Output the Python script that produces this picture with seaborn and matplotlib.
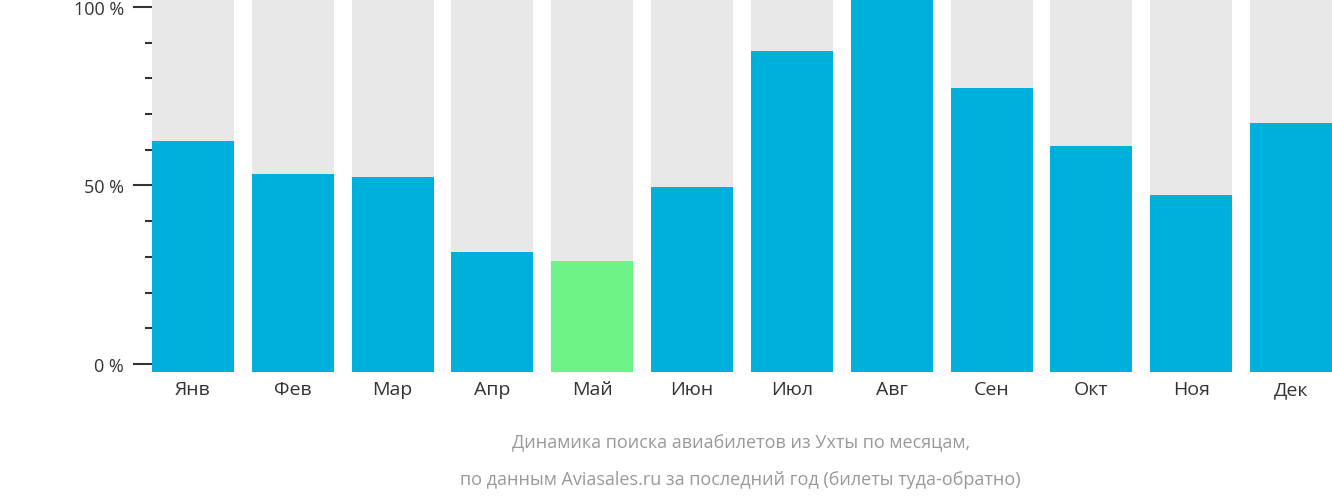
import matplotlib
matplotlib.use("Agg")
import matplotlib.pyplot as plt
import seaborn as sns
import pandas as pd

months = ["Янв", "Фев", "Мар", "Апр", "Май", "Июн", "Июл", "Авг", "Сен", "Окт", "Ноя", "Дек"]
values = [62.5, 53.2, 52.4, 31.4, 28.9, 49.6, 87.7, 102.2, 77.3, 61.1, 47.3, 67.5]
highlight = "Май"

BASE = -2.24
TOP = 102.24
blue, green, grey = "#00b0dc", "#6cf287", "#e8e8e8"

df = pd.DataFrame({"month": months, "value": values})
df["h"] = [v - BASE for v in df["value"]]
df["full"] = TOP - BASE

plt.rcParams["font.family"] = "Open Sans"
fig = plt.figure(figsize=(13.32, 5.02), dpi=100)
ax = fig.add_axes([152 / 1332, 129 / 502, 1 - 152 / 1332, 1 - 129 / 502])

sns.barplot(data=df, x="month", y="full", bottom=BASE, color=grey, width=0.82, ax=ax, saturation=1)
palette = {m: (green if m == highlight else blue) for m in months}
sns.barplot(data=df, x="month", y="h", bottom=BASE, hue="month", palette=palette,
            legend=False, width=0.82, ax=ax, saturation=1)

ax.set_xlim(-0.41, 11.41)
ax.set_ylim(BASE, TOP)
ax.set_yticks([0, 50, 100])
ax.set_yticklabels(["0 %", "50 %", "100 %"])
ax.set_yticks(range(0, 101, 10), minor=True)
ax.tick_params(axis="y", which="major", length=14, width=1.5, colors="#333333", labelsize=13, pad=6)
ax.tick_params(axis="y", which="minor", length=5, width=1.5, colors="#333333")
ax.tick_params(axis="x", length=0, labelsize=14, labelcolor="#333333", pad=6)
ax.set_xlabel("")
ax.set_ylabel("")
for s in ax.spines.values():
    s.set_visible(False)

fig.text(0.556, 1 - 443 / 502, "Динамика поиска авиабилетов из Ухты по месяцам,",
         ha="center", va="center", fontsize=13, color="#999999")
fig.text(0.556, 1 - 480 / 502, "по данным Aviasales.ru за последний год (билеты туда-обратно)",
         ha="center", va="center", fontsize=13, color="#999999")

fig.savefig("out.png", dpi=100)
